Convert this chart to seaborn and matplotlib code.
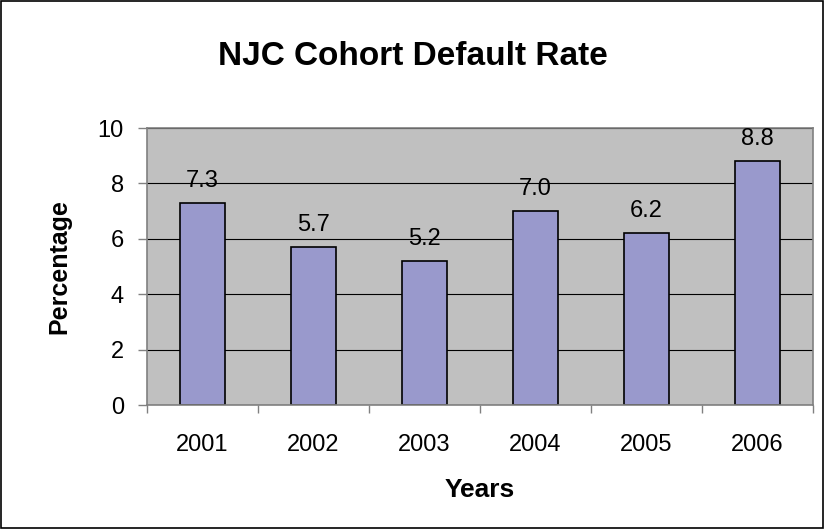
import matplotlib
matplotlib.use("Agg")
import matplotlib.pyplot as plt
import seaborn as sns
import pandas as pd

years = ["2001", "2002", "2003", "2004", "2005", "2006"]
rates = [7.3, 5.7, 5.2, 7.0, 6.2, 8.8]
yticks = [0, 2, 4, 6, 8, 10]

sns.set_style("white")
plt.rcParams['font.family'] = ['Liberation Sans', 'DejaVu Sans']

df = pd.DataFrame({"Years": years, "Percentage": rates})

fig = plt.figure(figsize=(8.25, 5.29), dpi=100)
ax = fig.add_axes([0.178, 0.2344, 0.8075, 0.5236])
ax.set_facecolor("#C0C0C0")
ax.set_axisbelow(True)
ax.yaxis.grid(True, color="#000000", lw=0.8)

sns.barplot(data=df, x="Years", y="Percentage", color="#9999CC", saturation=1,
            width=0.41, edgecolor="black", linewidth=1.2, ax=ax)

for i, v in enumerate(rates):
    ax.annotate(f"{v:.1f}", xy=(i, v), xytext=(0, 8), textcoords="offset points",
                ha="center", va="bottom", fontsize=17, color="black")

ax.set_ylim(0, 10)
ax.set_xlim(-0.5, len(years) - 0.5)
ax.set_yticks(yticks)
ax.set_yticklabels([str(t) for t in yticks], fontsize=17, color="black")
ax.set_xticks(range(len(years)))
ax.set_xticklabels(years, fontsize=17, color="black")
ax.tick_params(axis="x", length=0, pad=21)
ax.tick_params(axis="y", length=6.5, width=1, color="#808080", direction="out", pad=10, left=True)
# category separator ticks on x axis
ax.set_xticks([i - 0.5 for i in range(len(years) + 1)], minor=True)
ax.tick_params(axis="x", which="minor", length=6, width=1, color="#808080", direction="out", bottom=True)

for s in ax.spines.values():
    s.set_visible(True)
    s.set_color("#808080")
    s.set_linewidth(1.2)

ax.set_xlabel("Years", fontsize=19, fontweight="bold", color="black")
ax.set_ylabel("Percentage", fontsize=18, fontweight="bold", color="black")
ax.xaxis.set_label_coords(0.5, -0.263)
ax.yaxis.set_label_coords(-0.113, 0.5)
fig.text(0.5, 0.893, "NJC Cohort Default Rate", ha="center", va="center",
         fontsize=24, fontweight="bold", color="black")

border = plt.Rectangle((0.001, 0.002), 0.997, 0.996, transform=fig.transFigure,
                       fill=False, edgecolor="black", lw=1.2)
fig.patches.append(border)

fig.savefig("out.png", dpi=100)
